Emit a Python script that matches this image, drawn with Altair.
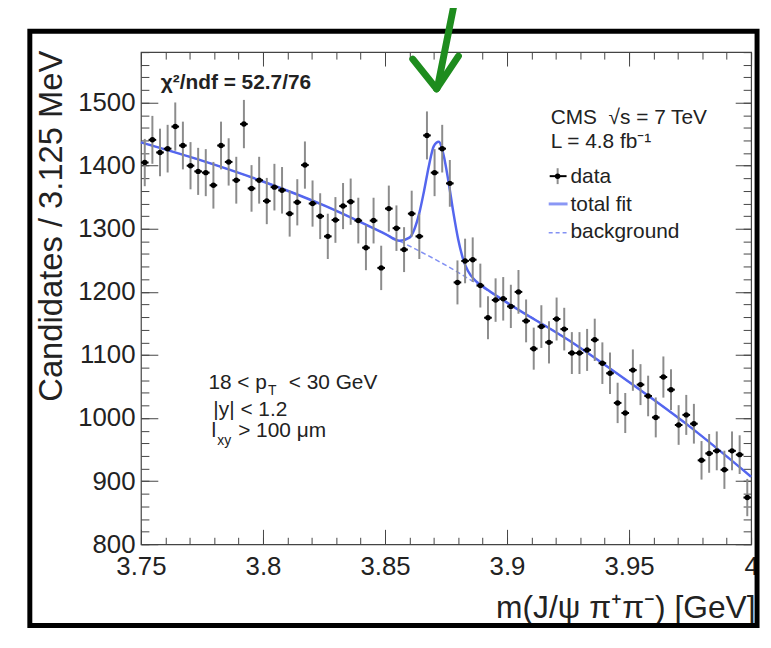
import altair as alt
import numpy as np
import pandas as pd

# ---------------- data ----------------
BIN_LO = 3.75          # GeV, lower edge of first bin
BIN_W = 0.003125       # GeV, bin width (3.125 MeV)
COUNTS = [
    1405, 1441, 1421, 1427, 1462, 1432, 1400, 1391, 1389, 1369,
    1432, 1406, 1377, 1466, 1364, 1377, 1344, 1366, 1361, 1324,
    1342, 1401, 1340, 1320, 1288, 1314, 1336, 1343, 1313, 1270,
    1313, 1238, 1332, 1301, 1267, 1324, 1288, 1448, 1389, 1427,
    1372, 1215, 1249, 1251, 1210, 1159, 1187, 1189, 1177, 1200,
    1154, 1110, 1145, 1120, 1157, 1141, 1103, 1103, 1108, 1124,
    1087, 1071, 1024, 1008, 1076, 1053, 1035, 1001, 1065, 1045,
    989, 1005, 991, 933, 944, 948, 918, 948, 942, 874,
]
FIT_X = [3.75, 3.775, 3.80, 3.825, 3.85, 3.856, 3.860, 3.862, 3.864, 3.866,
         3.868, 3.870, 3.872, 3.874, 3.876, 3.878, 3.880, 3.882, 3.884, 3.887,
         3.890, 3.90, 3.925, 3.95, 3.975, 4.0]
FIT_Y = [1437, 1408, 1375, 1337, 1292, 1281, 1286, 1299, 1324, 1360,
         1400, 1431, 1438, 1417, 1375, 1326, 1283, 1252, 1233, 1218,
         1209, 1183, 1124, 1057, 986, 907]
BKG_X = [3.75, 3.775, 3.80, 3.825, 3.85, 3.875, 3.90, 3.925, 3.95, 3.975, 4.0]
BKG_Y = [1437, 1408, 1375, 1337, 1292, 1242, 1183, 1124, 1057, 986, 907]

X_MAJOR = [3.75, 3.8, 3.85, 3.9, 3.95, 4.0]
X_MINOR = [round(3.75 + 0.01 * i, 2) for i in range(26)]
Y_MAJOR = [800, 900, 1000, 1100, 1200, 1300, 1400, 1500]
Y_MINOR = list(range(800, 1581, 20))

# ---------------- layout ----------------
W, H = 615, 496
FONT = "Liberation Sans"
TXT = "#222222"
TICK = "#444444"
FIT_COLOR = "#5466ee"
BKG_COLOR = "#8391f3"
NB = "\u00a0"

counts = np.array(COUNTS, dtype=float)
centers = BIN_LO + (np.arange(len(COUNTS)) + 0.5) * BIN_W
err = np.sqrt(counts)
df = pd.DataFrame({
    "x": centers, "xlo": centers - BIN_W / 2, "xhi": centers + BIN_W / 2,
    "count": counts, "lo": counts - err, "hi": counts + err,
})
fit_df = pd.DataFrame({"fx": FIT_X, "fy": FIT_Y})
bkg_df = pd.DataFrame({"bx": BKG_X, "by": BKG_Y})

XS = alt.Scale(domain=[3.75, 4.0], nice=False, zero=False)
YS = alt.Scale(domain=[800, 1580], nice=False, zero=False)


def tick_axis(orient, offset, values, size):
    return alt.Axis(orient=orient, offset=offset, values=values, labels=False,
                    ticks=True, tickSize=size, tickColor=TICK, tickWidth=1,
                    domain=False, grid=False, title="")


x_label_axis = alt.Axis(
    orient="bottom", values=X_MAJOR, format=".2~f", ticks=False, tickSize=0,
    domain=False, grid=False, labelFont=FONT, labelFontSize=26,
    labelColor=TXT, labelPadding=10, labelFlush=False, labelOverlap=False,
    title="m(J/ψ π⁺π⁻) [GeV]", titleFont=FONT, titleFontSize=32,
    titleFontWeight="normal", titleColor=TXT, titleX=W + 4, titleY=74,
    titleAlign="right", titleBaseline="alphabetic",
)
y_label_axis = alt.Axis(
    orient="left", values=Y_MAJOR, format="d", ticks=False, tickSize=0,
    domain=False, grid=False, labelFont=FONT, labelFontSize=26,
    labelColor=TXT, labelPadding=6, labelOverlap=False,
    title="Candidates / 3.125 MeV", titleFont=FONT, titleFontSize=33,
    titleFontWeight="normal", titleColor=TXT, titleAngle=270, titleX=-80,
    titleY=-2, titleAlign="right", titleBaseline="alphabetic",
)

bkg = alt.Chart(bkg_df).mark_line(
    color=BKG_COLOR, strokeWidth=1.5, strokeDash=[5, 3], interpolate="monotone"
).encode(
    x=alt.X("bx:Q", scale=XS, axis=tick_axis("bottom", -H, X_MINOR, 7)),
    y=alt.Y("by:Q", scale=YS, axis=tick_axis("left", -W, Y_MINOR, 8)),
)
fit = alt.Chart(fit_df).mark_line(
    color=FIT_COLOR, strokeWidth=2.5, interpolate="monotone"
).encode(
    x=alt.X("fx:Q", scale=XS, axis=tick_axis("bottom", -H, X_MAJOR, 14)),
    y=alt.Y("fy:Q", scale=YS, axis=tick_axis("left", -W, Y_MAJOR, 16)),
)
ebar = alt.Chart(df).mark_rule(color="#8c8c8c", strokeWidth=2).encode(
    x=alt.X("x:Q", scale=XS, axis=x_label_axis),
    y=alt.Y("lo:Q", scale=YS, axis=y_label_axis),
    y2="hi:Q",
)
hbar = alt.Chart(df).mark_rule(color="black", strokeWidth=2).encode(
    x=alt.X("xlo:Q", scale=XS, axis=tick_axis("top", -H, X_MAJOR, 15)),
    x2="xhi:Q",
    y=alt.Y("count:Q", scale=YS, axis=tick_axis("right", -W, Y_MAJOR, 17)),
)
pts = alt.Chart(df).mark_circle(color="black", size=30, opacity=1).encode(
    x=alt.X("x:Q", scale=XS, axis=tick_axis("top", -H, X_MINOR, 7)),
    y=alt.Y("count:Q", scale=YS, axis=tick_axis("right", -W, Y_MINOR, 8)),
)

ONE = alt.Data(values=[{}])


def txt(text, x, y, size=21, weight="normal"):
    return alt.Chart(ONE).mark_text(
        text=text, align="left", baseline="alphabetic", font=FONT,
        fontSize=size, fontWeight=weight, color=TXT,
    ).encode(x=alt.value(x), y=alt.value(y))


def seg(x1, y1, x2, y2, color, width, dash=None, cap="butt"):
    kw = dict(color=color, strokeWidth=width, strokeCap=cap)
    if dash:
        kw["strokeDash"] = dash
    return alt.Chart(ONE).mark_rule(**kw).encode(
        x=alt.value(x1), y=alt.value(y1), x2=alt.value(x2), y2=alt.value(y2))


texts = [
    txt("χ²/ndf = 52.7/76", 20, 37, size=21, weight="bold"),
    txt("CMS" + NB + NB + "√s = 7 TeV", 413, 72),
    txt("L = 4.8 fb⁻¹", 413, 97),
    txt("data", 433, 132),
    txt("total fit", 433, 160),
    txt("background", 433, 187),
    txt("18 < p", 68, 340),
    txt("T", 128, 346, size=14),
    txt("< 30 GeV", 149, 340),
    txt("|y| < 1.2", 73, 367),
    txt("l", 71, 388),
    txt("xy", 77, 396, size=14),
    txt("> 100 μm", 98, 388),
]
legend = [
    seg(420, 117, 420, 133, "#8c8c8c", 2),
    seg(412, 125, 429, 125, "black", 2),
    alt.Chart(ONE).mark_circle(color="black", size=30, opacity=1).encode(
        x=alt.value(420), y=alt.value(125)),
    seg(411, 153, 430, 153, "#8a97f5", 3),
    seg(411, 182, 430, 182, BKG_COLOR, 1.5, dash=[4, 3]),
]
frame = alt.Chart(ONE).mark_rect(
    fillOpacity=0, stroke="black", strokeWidth=5
).encode(x=alt.value(-112), x2=alt.value(621), y=alt.value(-21), y2=alt.value(578))
check = [
    seg(316, -50, 299, 35, "#1e8c1e", 7, cap="round"),
    seg(274, 7, 298, 37, "#1e8c1e", 7, cap="round"),
    seg(298, 37, 320, 4, "#1e8c1e", 7, cap="round"),
]

chart = alt.layer(
    bkg, fit, ebar, hbar, pts, *texts, *legend, frame, *check
).resolve_axis(
    x="independent", y="independent"
).properties(
    width=W, height=H,
    autosize=alt.AutoSizeParams(type="none"),
    padding={"left": 134, "top": 42, "right": 12, "bottom": 90},
    background="white",
).configure_view(stroke="#444444", strokeWidth=1.2)

chart.save("out.html", embed_options={"renderer": "svg", "actions": False})
